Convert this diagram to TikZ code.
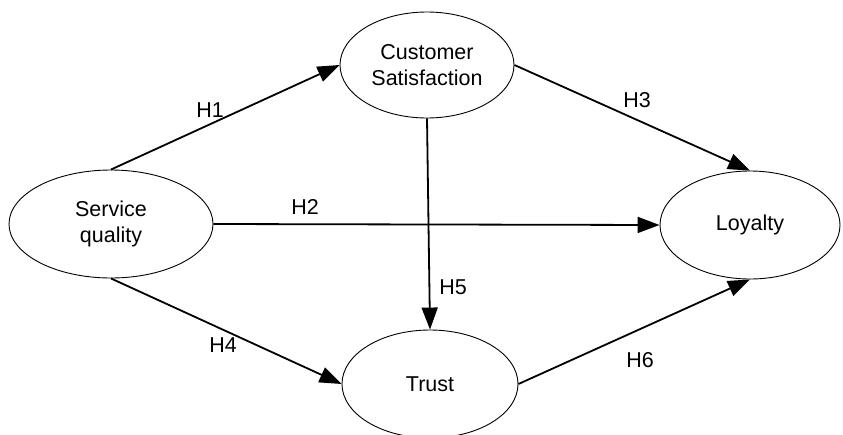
\documentclass[tikz,border=0pt]{standalone}
\usepackage{fontspec}
\setmainfont{Liberation Sans}
\usetikzlibrary{shapes.geometric,arrows.meta}
\begin{document}
\begin{tikzpicture}[x=1pt,y=-1pt,
  construct/.style={draw,line width=0.9pt,ellipse,inner sep=0pt,align=center,
    font=\fontsize{21.5}{26}\selectfont},
  path/.style={line width=1.8pt,-{Triangle[length=22pt,width=16pt]}},
  hlabel/.style={font=\fontsize{21.5}{26}\selectfont,inner sep=0pt}]
\useasboundingbox (0,0) rectangle (843,434);
\node[construct,minimum width=204pt,minimum height=108pt] (sq) at (111,224) {Service\\quality};
\node[construct,minimum width=174pt,minimum height=106pt] (cs) at (427,65) {Customer\\Satisfaction};
\node[construct,minimum width=180pt,minimum height=108pt] (loy) at (750,225) {Loyalty};
\node[construct,minimum width=176pt,minimum height=108pt] (tr) at (430,384) {Trust};
\draw[path] (sq.north) -- (cs.west);
\draw[path] (sq.east) -- (loy.west);
\draw[path] (cs.east) -- (loy.north);
\draw[path] (sq.south) -- (tr.west);
\draw[path] (cs.south) -- (tr.north);
\draw[path] (tr.east) -- (loy.south);
\node[hlabel] (h1) at (210,110) {H1};
\node[hlabel] (h2) at (305,207) {H2};
\node[hlabel] (h3) at (637,100) {H3};
\node[hlabel] (h4) at (223,345) {H4};
\node[hlabel] (h5) at (453,287) {H5};
\node[hlabel] (h6) at (640,360) {H6};
\end{tikzpicture}
\end{document}
